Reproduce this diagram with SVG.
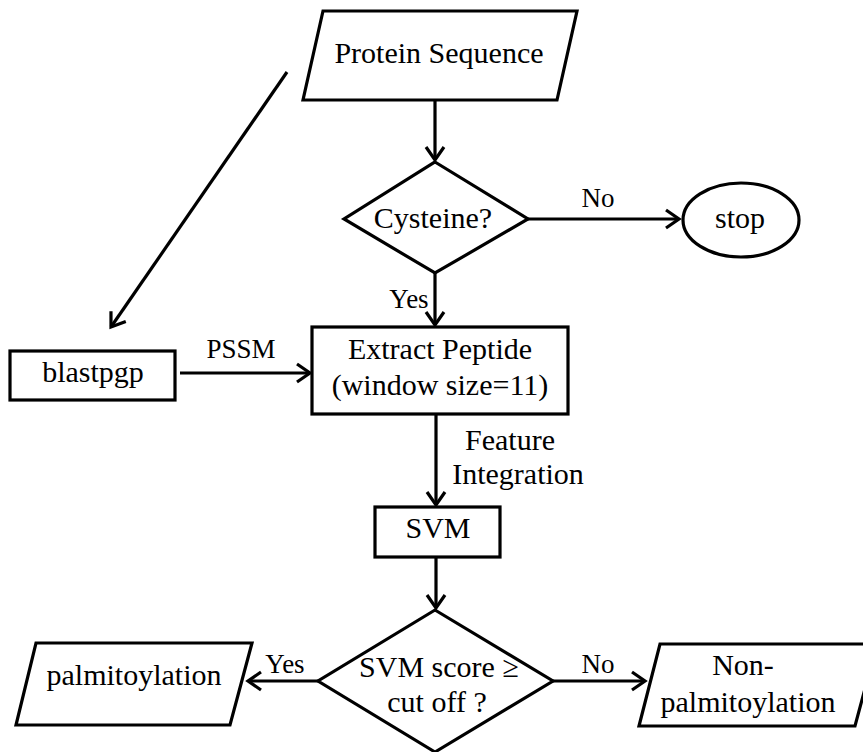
<svg xmlns="http://www.w3.org/2000/svg" width="863" height="752" viewBox="0 0 863 752">
<style>
.s{fill:#fff;stroke:#000;stroke-width:3.2}
.t{font-family:"Liberation Serif",serif;font-size:30px;fill:#000;text-anchor:middle}
.l{font-family:"Liberation Serif",serif;font-size:27px;fill:#000;text-anchor:middle}
.c{fill:none;stroke:#000;stroke-width:3.2}
</style>
<defs>
<marker id="arr" markerUnits="userSpaceOnUse" markerWidth="30" markerHeight="30" refX="0" refY="0" orient="auto" overflow="visible">
<path d="M-13,-9 L0,0 L-13,9" fill="none" stroke="#000" stroke-width="3.2"/>
</marker>
</defs>
<rect width="863" height="752" fill="#fff"/>
<g id="connectors">
<line class="c" x1="435" y1="100" x2="435" y2="160" marker-end="url(#arr)"/>
<line class="c" x1="528" y1="219" x2="679" y2="219" marker-end="url(#arr)"/>
<line class="c" x1="435" y1="273" x2="435" y2="325" marker-end="url(#arr)"/>
<line class="c" x1="287" y1="72" x2="111" y2="327" marker-end="url(#arr)"/>
<line class="c" x1="180" y1="373" x2="310" y2="373" marker-end="url(#arr)"/>
<line class="c" x1="436" y1="414" x2="436" y2="505" marker-end="url(#arr)"/>
<line class="c" x1="436" y1="557" x2="436" y2="608" marker-end="url(#arr)"/>
<line class="c" x1="318" y1="681" x2="248" y2="681" marker-end="url(#arr)"/>
<line class="c" x1="553" y1="681" x2="645" y2="681" marker-end="url(#arr)"/>
<text class="l" x="598" y="207">No</text>
<text class="l" x="409" y="308">Yes</text>
<text class="l" x="241" y="358">PSSM</text>
<text class="t" x="510" y="450">Feature</text>
<text class="t" x="518" y="484">Integration</text>
<text class="l" x="285" y="673">Yes</text>
<text class="l" x="598" y="673">No</text>
</g>
<g id="protein">
<polygon class="s" points="323,11 577,11 557,100 303,100"/>
<text class="t" x="439" y="63">Protein Sequence</text>
</g>
<g id="cysteine">
<polygon class="s" points="435,162 528,219 435,273 344,219"/>
<text class="t" x="433" y="228">Cysteine?</text>
</g>
<g id="stop">
<ellipse class="s" cx="741" cy="220" rx="58" ry="37"/>
<text class="t" x="740" y="228">stop</text>
</g>
<g id="blastpgp">
<rect class="s" x="10" y="351" width="165" height="49"/>
<text class="t" x="93" y="382">blastpgp</text>
</g>
<g id="extract">
<rect class="s" x="312" y="327" width="256" height="87"/>
<text class="t" x="440" y="359">Extract Peptide</text>
<text class="t" x="440" y="395">(window size=11)</text>
</g>
<g id="svm">
<rect class="s" x="375" y="507" width="125" height="50"/>
<text class="t" x="438" y="538">SVM</text>
</g>
<g id="decision">
<polygon class="s" points="435,610 553,681 435,752 318,681"/>
<text class="t" x="439" y="677">SVM score ≥</text>
<text class="t" x="437" y="712">cut off ?</text>
</g>
<g id="palm">
<polygon class="s" points="36,643 252,643 230,725 16,725"/>
<text class="t" x="134" y="685">palmitoylation</text>
</g>
<g id="nonpalm">
<polygon class="s" points="660,644 877,644 855,726 639,726"/>
<text class="t" x="743" y="675">Non-</text>
<text class="t" x="748" y="712">palmitoylation</text>
</g>
</svg>
